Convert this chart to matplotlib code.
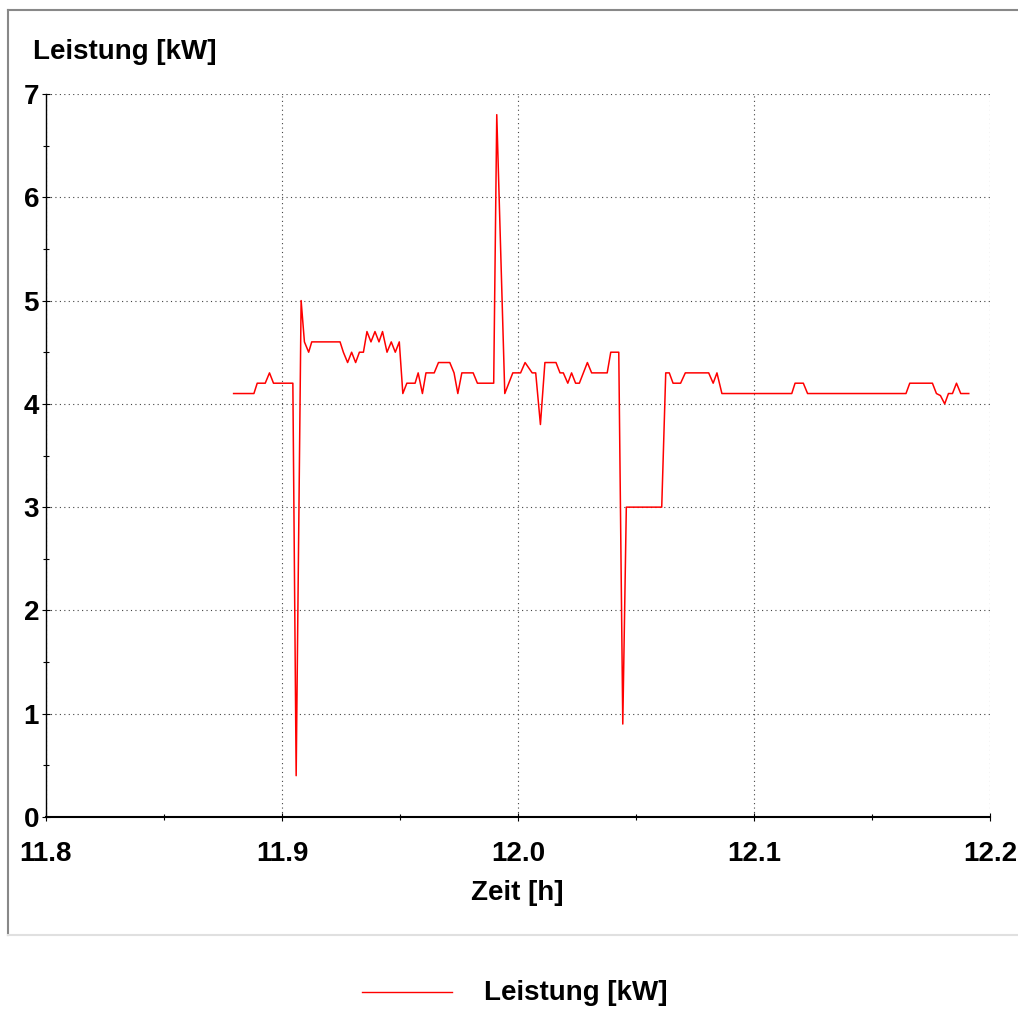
import numpy as np
import matplotlib.pyplot as plt
from matplotlib.lines import Line2D
from matplotlib.ticker import MultipleLocator, FormatStrFormatter

plt.rcParams['font.family'] = ['Liberation Sans', 'DejaVu Sans']
plt.rcParams['font.weight'] = 'bold'

# time [h] and power [kW] at the breakpoints of the trace
zeit = [11.8795, 11.8881, 11.8895, 11.8929, 11.8947, 11.8964, 11.9046, 11.9060,
        11.9081, 11.9095, 11.9113, 11.9126, 11.9246, 11.9260, 11.9278, 11.9295,
        11.9312, 11.9328, 11.9345, 11.9360, 11.9377, 11.9394, 11.9411, 11.9426,
        11.9445, 11.9463, 11.9480, 11.9497, 11.9512, 11.9529, 11.9564, 11.9577,
        11.9595, 11.9610, 11.9645, 11.9663, 11.9711, 11.9729, 11.9745, 11.9762,
        11.9810, 11.9828, 11.9897, 11.9910, 11.9944, 11.9978, 12.0011, 12.0030,
        12.0060, 12.0075, 12.0095, 12.0114, 12.0161, 12.0178, 12.0192, 12.0211,
        12.0227, 12.0244, 12.0260, 12.0294, 12.0312, 12.0378, 12.0393, 12.0427,
        12.0444, 12.0459, 12.0609, 12.0626, 12.0641, 12.0657, 12.0689, 12.0709,
        12.0808, 12.0827, 12.0843, 12.0864, 12.1160, 12.1174, 12.1209, 12.1227,
        12.1644, 12.1660, 12.1756, 12.1773, 12.1790, 12.1808, 12.1824, 12.1841,
        12.1858, 12.1876, 12.1910]
leistung = [4.1, 4.1, 4.2, 4.2, 4.3, 4.2, 4.2, 0.4,
            5.0, 4.6, 4.5, 4.6, 4.6, 4.5, 4.4, 4.5,
            4.4, 4.5, 4.5, 4.7, 4.6, 4.7, 4.6, 4.7,
            4.5, 4.6, 4.5, 4.6, 4.1, 4.2, 4.2, 4.3,
            4.1, 4.3, 4.3, 4.4, 4.4, 4.3, 4.1, 4.3,
            4.3, 4.2, 4.2, 6.8, 4.1, 4.3, 4.3, 4.4,
            4.3, 4.3, 3.8, 4.4, 4.4, 4.3, 4.3, 4.2,
            4.3, 4.2, 4.2, 4.4, 4.3, 4.3, 4.5, 4.5,
            0.9, 3.0, 3.0, 4.3, 4.3, 4.2, 4.2, 4.3,
            4.3, 4.2, 4.3, 4.1, 4.1, 4.2, 4.2, 4.1,
            4.1, 4.2, 4.2, 4.1, 4.08, 4.0, 4.1, 4.1,
            4.2, 4.1, 4.1]

W, H = 1018, 1010
fig = plt.figure(figsize=(W / 100, H / 100), dpi=100)
ax = fig.add_axes([46 / W, 1 - 817 / H, (990 - 46) / W, (817 - 94) / H])

ax.plot(zeit, leistung, color='#ff0000', lw=1.1)

ax.set_xlim(11.8, 12.2)
ax.set_ylim(0, 7)
ax.xaxis.set_major_locator(MultipleLocator(0.1))
ax.xaxis.set_minor_locator(MultipleLocator(0.05))
ax.xaxis.set_major_formatter(FormatStrFormatter('%.1f'))
ax.yaxis.set_major_locator(MultipleLocator(1))
ax.yaxis.set_minor_locator(MultipleLocator(0.5))
ax.tick_params(which='both', direction='inout', labelsize=20, width=0.8)
ax.tick_params(which='major', length=6)
ax.tick_params(which='minor', length=5)
ax.tick_params(axis='y', pad=2)
ax.tick_params(axis='x', pad=14)
for lbl in ax.get_xticklabels() + ax.get_yticklabels():
    lbl.set_fontweight('bold')

ax.grid(True, which='major', color='#444444', linestyle=(0, (1, 3)), lw=0.8)
ax.spines['top'].set_visible(False)
ax.spines['right'].set_visible(False)
ax.spines['left'].set_linewidth(1.0)
ax.spines['bottom'].set_linewidth(1.5)

fig.text(33 / W, 1 - 52 / H, 'Leistung [kW]', fontsize=20, fontweight='bold',
         ha='left', va='center')
fig.text(517 / W, 1 - 893 / H, 'Zeit [h]', fontsize=20, fontweight='bold',
         ha='center', va='center')

# outer frame
fig.add_artist(Line2D([8 / W, 8 / W], [1 - 10 / H, 1 - 935 / H], color='#888888', lw=1.5))
fig.add_artist(Line2D([8 / W, 1], [1 - 10 / H, 1 - 10 / H], color='#888888', lw=1.5))
fig.add_artist(Line2D([8 / W, 1], [1 - 935 / H, 1 - 935 / H], color='#e0e0e0', lw=1.5))

# legend
fig.add_artist(Line2D([362 / W, 452 / W], [1 - 992 / H, 1 - 992 / H], color='#ff0000', lw=1.0))
fig.text(484 / W, 1 - 993 / H, 'Leistung [kW]', fontsize=20, fontweight='bold',
         ha='left', va='center')

fig.savefig('out.png', dpi=100)
